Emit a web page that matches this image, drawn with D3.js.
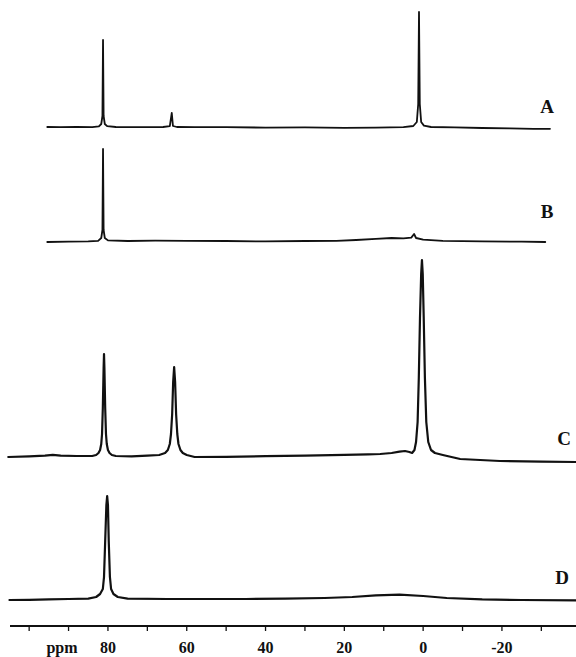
<!DOCTYPE html>
<html>
<head>
<meta charset="utf-8">
<script src="https://cdn.jsdelivr.net/npm/d3@7"></script>
<style>
  html, body { margin: 0; padding: 0; background: #fff; }
  svg { display: block; }
  .trace { fill: none; stroke: #111; stroke-linejoin: round; stroke-linecap: round; }
  .lbl { font-family: "Liberation Serif", "DejaVu Serif", serif; font-weight: bold; fill: #111; }
</style>
</head>
<body>
<svg id="chart" width="576" height="657"></svg>
<script>
// spectra: [ppm, intensity], intensity 100 = tallest line (C, ~0 ppm)
const specA = [
  [95.4, 0.5], [92, 0.4], [88, 0.6], [84, 0.4], [82.3, 0.8], [81.7, 2], [81.4, 6], [81.25, 44],
  [81.1, 6], [80.8, 2], [80.2, 0.9], [78, 0.5], [72, 0.4], [66, 0.5], [64.3, 0.9], [63.8, 7.5],
  [63.5, 1], [62.5, 0.5], [58, 0.4], [50, 0.4], [40, 0.2], [30, 0.3], [20, 0.1], [12, 0.2],
  [5, 0.4], [2.5, 1], [1.6, 3], [1.25, 12], [1.05, 58], [0.85, 12], [0.5, 3], [-0.2, 1.2],
  [-2, 0.5], [-8, 0.3], [-15, 0], [-22, -0.2], [-28, -0.4], [-32.2, -0.4]
];
const specB = [
  [95.4, 0], [90, 0.2], [85, 0.3], [82.5, 0.6], [81.7, 2], [81.4, 6], [81.25, 46.5], [81.1, 6],
  [80.8, 2], [80, 0.8], [75, 0.5], [68, 0.7], [60, 0.6], [50, 0.5], [40, 0.3], [30, 0.5],
  [22, 0.6], [17, 1], [12, 1.6], [8, 2], [5, 1.8], [3, 2.2], [2.3, 4], [1.8, 2], [0, 1.2],
  [-5, 0.6], [-15, 0.3], [-25, 0.2], [-31, 0]
];
const specC = [
  [105.3, 0.5], [100, 0.8], [96, 1.2], [94, 1.6], [92, 1.2], [88, 1], [84, 1], [83, 1.5],
  [82.4, 2.5], [82, 4], [81.7, 7], [81.5, 12], [81.3, 25], [81.1, 45], [81.0, 52], [80.9, 45],
  [80.7, 25], [80.5, 12], [80.3, 7], [80, 4], [79.6, 2.5], [79, 1.5], [78, 1], [74, 0.8],
  [70, 1.2], [67, 1.5], [65.5, 2.5], [64.8, 4], [64.3, 7], [64, 12], [63.7, 22], [63.45, 38],
  [63.2, 45.5], [62.95, 38], [62.7, 22], [62.4, 12], [62.1, 7], [61.6, 4], [61, 2.5], [60, 1.5],
  [58, 0.5], [50, 0.6], [40, 0.9], [30, 1.2], [20, 1.6], [14, 1.8], [10.9, 2], [8, 2.5],
  [6, 3.2], [4.6, 3.5], [3.5, 3], [2.8, 2.5], [2.2, 4], [1.8, 8], [1.4, 18], [1.1, 40],
  [0.8, 70], [0.5, 92], [0.3, 99], [0.1, 92], [-0.15, 70], [-0.45, 40], [-0.8, 18], [-1.3, 8],
  [-2, 4], [-3, 2.5], [-5, 1.5], [-9.4, -0.5], [-19.5, -1.5], [-30, -1.8], [-38.8, -2]
];
const specD = [
  [105, 0.5], [100, 0.6], [95, 0.8], [90, 1], [85, 1.2], [83, 2], [82, 3.5], [81.3, 6],
  [81, 12], [80.7, 30], [80.4, 48], [80.2, 52.5], [80.0, 48], [79.8, 30], [79.5, 12], [79.2, 6],
  [78.6, 3.5], [77.5, 2], [75, 1.2], [65, 1], [55, 1], [45, 1], [35, 1.2], [25, 1.5],
  [18, 2], [12, 2.8], [6, 3.2], [0, 2.5], [-6, 1.5], [-15, 0.8], [-25, 0.5], [-38.8, 0.3]
];

const traceNames = ["A", "B", "C", "D"];
const traceData = [specA, specB, specC, specD];
const majorTicks = [80, 60, 40, 20, 0, -20];
const minorTicks = [100, 90, 70, 50, 30, 10, -10, -30];
const axisTitle = "ppm";

// layout
const width = 576, height = 657;
const baselines = [128, 242, 458, 601];
const traceWidths = [1.8, 1.8, 2.2, 2.2];
const labelPos = [[547, 113], [547, 218], [564, 445], [562, 584]];
const axisY = 626;

const svg = d3.select("#chart");

const x = d3.scaleLinear().domain([107.4, -38.8]).range([0, width]);

traceData.forEach((spec, i) => {
  const y = d3.scaleLinear().domain([0, 100]).range([baselines[i], baselines[i] - 200]);
  const line = d3.line()
    .x(d => x(d[0]))
    .y(d => y(d[1]));

  svg.append("path")
    .datum(spec)
    .attr("class", "trace")
    .attr("d", line)
    .style("stroke-width", traceWidths[i]);

  svg.append("text")
    .attr("class", "lbl")
    .attr("x", labelPos[i][0])
    .attr("y", labelPos[i][1])
    .attr("text-anchor", "middle")
    .style("font-size", "19px")
    .text(traceNames[i]);
});

// ppm axis
const axisG = svg.append("g").attr("transform", `translate(0,${axisY})`);

axisG.append("line")
  .attr("x1", 10).attr("x2", width)
  .attr("stroke", "#111").attr("stroke-width", 1.8);

axisG.selectAll("line.tick")
  .data(majorTicks.concat(minorTicks))
  .enter()
  .append("line")
  .classed("tick", true)
  .attr("x1", d => x(d)).attr("x2", d => x(d))
  .attr("y1", 0).attr("y2", 5)
  .attr("stroke", "#111").attr("stroke-width", 1.3);

axisG.selectAll("text.tl")
  .data(majorTicks)
  .enter()
  .append("text")
  .attr("class", "lbl tl")
  .attr("x", d => x(d))
  .attr("y", 27)
  .attr("text-anchor", "middle")
  .style("font-size", "16px")
  .text(d => d);

axisG.append("text")
  .attr("class", "lbl")
  .attr("x", 62)
  .attr("y", 27)
  .attr("text-anchor", "middle")
  .style("font-size", "16px")
  .text(axisTitle);
</script>
</body>
</html>
